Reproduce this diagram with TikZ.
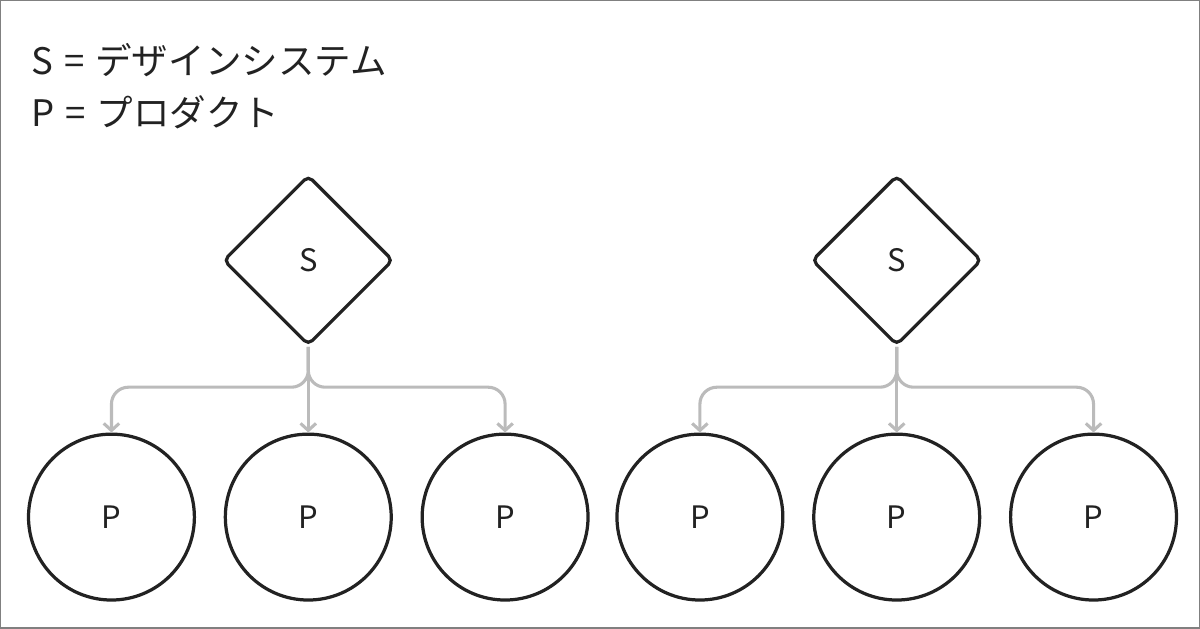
\documentclass[tikz,border=0pt]{standalone}
\usepackage{fontspec}
\setmainfont{Noto Sans CJK JP}
\usetikzlibrary{arrows.meta,shapes.geometric}
\definecolor{linkgray}{HTML}{BBBBBB}
\definecolor{inkdark}{HTML}{222222}
\begin{document}
\begin{tikzpicture}[
  x=0.025cm, y=-0.025cm,
  sysnode/.style={diamond, draw=inkdark, line width=2.3pt, rounded corners=4pt,
    minimum size=4.25cm, inner sep=0pt, font=\fontsize{22}{26}\selectfont, text=inkdark},
  prodnode/.style={circle, draw=inkdark, line width=2.3pt,
    minimum size=4.15cm, inner sep=0pt, font=\fontsize{22}{26}\selectfont, text=inkdark},
  link/.style={-{Straight Barb[length=5pt,width=11pt]}, linkgray, line width=2.2pt, rounded corners=12pt},
]
  \draw[gray, line width=0.8pt] (0,0) rectangle (1200,628);
  \node[anchor=west, font=\fontsize{26}{30}\selectfont, text=inkdark] (legs) at (26,60) {S\hspace{0.3em}=\hspace{0.3em}デザインシステム};
  \node[anchor=west, font=\fontsize{26}{30}\selectfont, text=inkdark] (legp) at (26,112) {P\hspace{0.3em}=\hspace{0.3em}プロダクト};

  % two groups
  \foreach \g/\cx in {a/308, b/897} {
    \node[sysnode] (s\g) at (\cx,260) {S};
    \foreach \i/\dx in {1/-197, 2/0, 3/197} {
      \node[prodnode] (p\g\i) at (\cx+\dx,517) {P};
      \draw[link] (s\g.south) |- (\cx+\dx,387) -- (p\g\i.north);
    }
  }
\end{tikzpicture}
\end{document}
